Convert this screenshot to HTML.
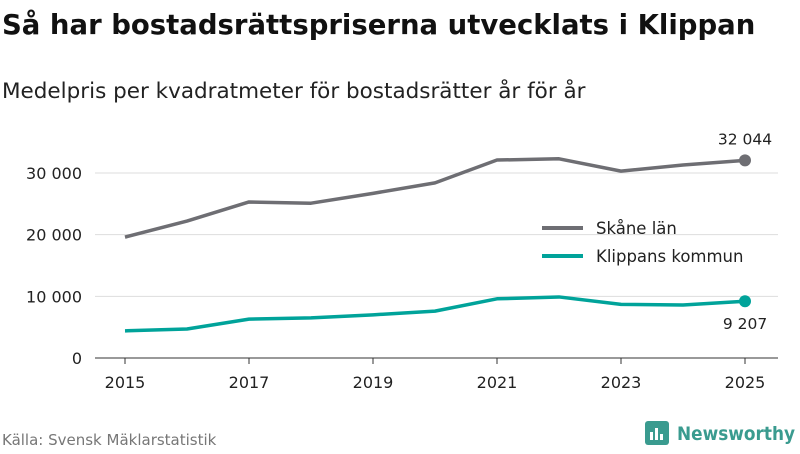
<!DOCTYPE html>
<html><head><meta charset="utf-8">
<style>
body{margin:0;width:800px;height:450px;background:#fff;font-family:"DejaVu Sans","Liberation Sans",sans-serif;overflow:hidden}
svg text{font-family:"DejaVu Sans","Liberation Sans",sans-serif}
</style></head>
<body>
<svg width="800" height="450">
<text x="2" y="34" font-size="27.5" font-weight="bold" fill="#111">Så har bostadsrättspriserna utvecklats i Klippan</text>
<text x="2" y="98" font-size="21.5" fill="#222">Medelpris per kvadratmeter för bostadsrätter år för år</text>
<g id="grid"></g>
<g id="axes"></g>
<g id="series"></g>
<g>
<line x1="542" y1="228" x2="583" y2="228" stroke="#6e6e73" stroke-width="4"/>
<text x="596" y="234" font-size="16.5" fill="#222">Skåne län</text>
<line x1="542" y1="256" x2="583" y2="256" stroke="#00a39a" stroke-width="4"/>
<text x="596" y="262" font-size="16.5" fill="#222">Klippans kommun</text>
</g>
<text x="2" y="445" font-size="15" fill="#777">Källa: Svensk Mäklarstatistik</text>
<g>
<rect x="645" y="421" width="24" height="24" rx="3" fill="#3a9b8f"/>
<rect x="650" y="432" width="3" height="8" fill="#fff"/><rect x="655" y="428" width="3" height="12" fill="#fff"/><rect x="660" y="434" width="3" height="6" fill="#fff"/>
<text x="677" y="440" font-size="19" font-weight="bold" fill="#3a9b8f" textLength="118" lengthAdjust="spacingAndGlyphs">Newsworthy</text>
</g>
</svg>
<script>
const years=[2015,2016,2017,2018,2019,2020,2021,2022,2023,2024,2025];
const skane=[19600,22200,25300,25100,26700,28400,32100,32300,30300,31300,32044];
const klippan=[4400,4700,6300,6500,7000,7600,9600,9900,8700,8600,9207];
const yTicks=[0,10000,20000,30000];
const yTickLabels=["0","10 000","20 000","30 000"];
const xTicks=[2015,2017,2019,2021,2023,2025];
const NS="http://www.w3.org/2000/svg";
const x=v=>125+(v-2015)*62;
const y=v=>358-v*0.006167;
function mk(t,a,p){const e=document.createElementNS(NS,t);for(const k in a)e.setAttribute(k,a[k]);p.appendChild(e);return e;}
const grid=document.getElementById('grid'),axes=document.getElementById('axes'),ser=document.getElementById('series');
yTicks.forEach((v,i)=>{
 const l=mk('line',{x1:95,x2:778,y1:y(v),y2:y(v),stroke:v===0?'#333':'#ddd','stroke-width':1},grid);
 
 
 const t=mk('text',{x:82,y:y(v)+6,'text-anchor':'end','font-size':16,fill:'#222'},axes);
 t.textContent=yTickLabels[i];
 
 
});
xTicks.forEach(v=>{
 const l=mk('line',{x1:x(v),x2:x(v),y1:358,y2:364,stroke:'#333'},axes);
 
 
 const t=mk('text',{x:x(v),y:388,'text-anchor':'middle','font-size':16,fill:'#222'},axes);
 t.textContent=v;
 
 
});
function line(vals,col,name,labY){
 const p=mk('polyline',{points:vals.map((v,i)=>x(years[i])+','+y(v)).join(' '),fill:'none',stroke:col,'stroke-width':3.5,'stroke-linejoin':'round'},ser);
 
 
 const n=vals.length-1;
 const c=mk('circle',{cx:x(years[n]),cy:y(vals[n]),r:6,fill:col},ser);
 
 
 const t=mk('text',{x:x(years[n]),y:y(vals[n])+labY,'text-anchor':'middle','font-size':15.5,fill:'#222'},ser);
 t.textContent=String(Math.round(vals[n])).replace(/\B(?=(\d{3})+(?!\d))/g,' ');
 
 
}
line(skane,'#6e6e73','skane',-16);
line(klippan,'#00a39a','klippan',28);
</script>
</body></html>
